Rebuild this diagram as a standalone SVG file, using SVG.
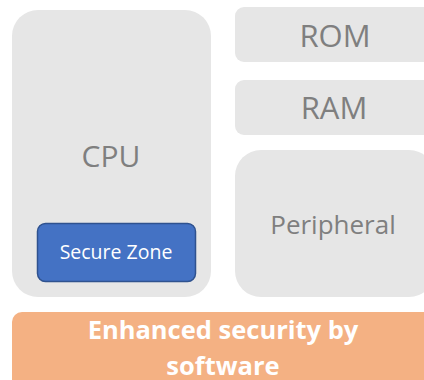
<svg xmlns="http://www.w3.org/2000/svg" width="424" height="380" viewBox="0 0 424 380">
<style>
.box{fill:#E6E6E6}
.lbl{font-family:"Open Sans","Liberation Sans",sans-serif;fill:#7F7F7F;text-anchor:middle}
.w{font-family:"Open Sans","Liberation Sans",sans-serif;fill:#FFFFFF;text-anchor:middle}
</style>
<rect width="424" height="380" fill="#FFFFFF"/>
<g id="cpu">
<rect class="box" x="12" y="10" width="199" height="287" rx="26"/>
<text class="lbl" x="111" y="167" font-size="30">CPU</text>
</g>
<g id="secure-zone">
<rect x="37.5" y="223.5" width="158" height="58" rx="8" fill="#4472C4" stroke="#2F528F" stroke-width="1.5"/>
<text class="w" x="116" y="259" font-size="19.5">Secure Zone</text>
</g>
<g id="rom">
<rect class="box" x="235" y="7" width="200" height="55" rx="9"/>
<text class="lbl" x="335" y="47" font-size="31">ROM</text>
</g>
<g id="ram">
<rect class="box" x="235" y="80" width="200" height="55" rx="9"/>
<text class="lbl" x="334" y="119" font-size="31">RAM</text>
</g>
<g id="peripheral">
<rect class="box" x="235" y="150" width="200" height="147" rx="26"/>
<text class="lbl" x="333" y="234" font-size="26">Peripheral</text>
</g>
<g id="software">
<rect x="12" y="312" width="430" height="80" rx="10" fill="#F4B183"/>
<text class="w" x="223" y="339" font-size="25.5" font-weight="bold">Enhanced security by</text>
<text class="w" x="223" y="375" font-size="25.5" font-weight="bold">software</text>
</g>
<g id="connectors"/>
</svg>
